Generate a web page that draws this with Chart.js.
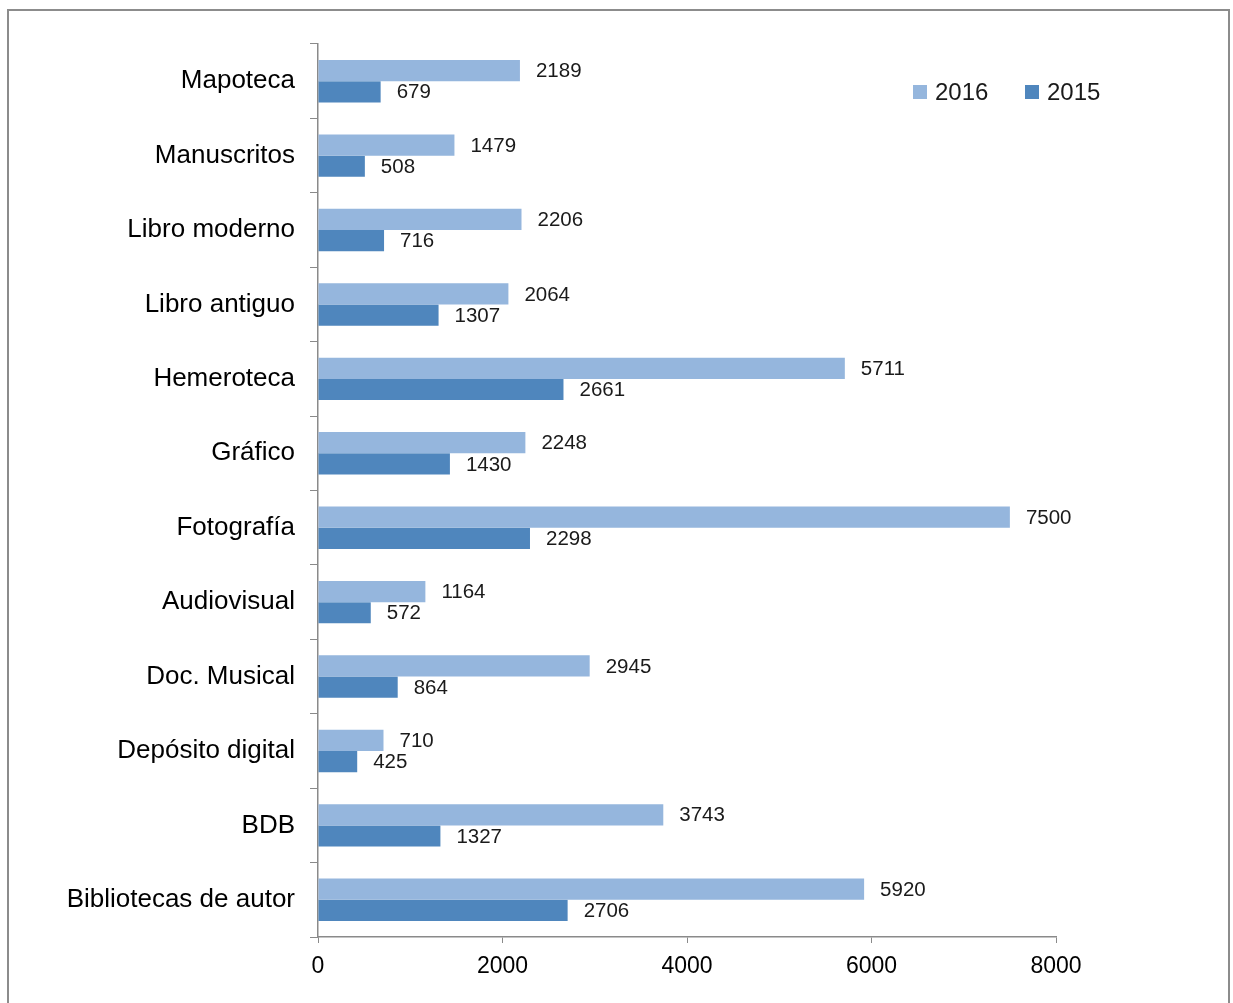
<!DOCTYPE html>
<html lang="es">
<head>
    <meta charset="UTF-8">
    <title>Fondos por colección 2015-2016</title>
    <script src="https://cdn.jsdelivr.net/npm/chart.js"></script>
    <style>
        body {
            margin: 0;
            background: #ffffff;
        }
        canvas {
            display: block;
        }
    </style>
</head>
<body>
    <canvas id="fondosChart" width="1233" height="1003"></canvas>

    <script>
        const categorias = ['Mapoteca', 'Manuscritos', 'Libro moderno', 'Libro antiguo', 'Hemeroteca', 'Gráfico',
            'Fotografía', 'Audiovisual', 'Doc. Musical', 'Depósito digital', 'BDB', 'Bibliotecas de autor'];
        const valores2016 = [2189, 1479, 2206, 2064, 5711, 2248, 7500, 1164, 2945, 710, 3743, 5920];
        const valores2015 = [679, 508, 716, 1307, 2661, 1430, 2298, 572, 864, 425, 1327, 2706];
        const ticksX = [0, 2000, 4000, 6000, 8000];

        const fuente = '"Liberation Sans", Arial, sans-serif';
        const gris = '#8a8a8a';

        // Marco gris alrededor del gráfico
        const marco = {
            id: 'marco',
            beforeDraw(chart) {
                const ctx = chart.ctx;
                ctx.save();
                ctx.strokeStyle = '#8c8c8c';
                ctx.lineWidth = 2;
                ctx.strokeRect(8, 10, 1221, 1100);
                ctx.restore();
            }
        };

        // Valores escritos a la derecha de cada barra
        const etiquetas = {
            id: 'etiquetas',
            afterDatasetsDraw(chart) {
                const ctx = chart.ctx;
                ctx.save();
                ctx.font = '20.5px ' + fuente;
                ctx.fillStyle = '#1a1a1a';
                ctx.textAlign = 'left';
                ctx.textBaseline = 'middle';
                chart.data.datasets.forEach((ds, i) => {
                    chart.getDatasetMeta(i).data.forEach((bar, j) => {
                        ctx.fillText(String(ds.data[j]), bar.x + 16, bar.y + 1);
                    });
                });
                ctx.restore();
            }
        };

        // Leyenda arriba a la derecha, dentro del área
        const leyenda = {
            id: 'leyenda',
            afterDraw(chart) {
                const ctx = chart.ctx;
                const posiciones = [913, 1025];
                ctx.save();
                ctx.font = '24px ' + fuente;
                ctx.textBaseline = 'middle';
                ctx.textAlign = 'left';
                chart.data.datasets.forEach((ds, i) => {
                    const x = posiciones[i];
                    ctx.fillStyle = ds.backgroundColor;
                    ctx.fillRect(x, 85, 14, 14);
                    ctx.fillStyle = '#1a1a1a';
                    ctx.fillText(ds.label, x + 22, 93);
                });
                ctx.restore();
            }
        };

        new Chart(document.getElementById('fondosChart'), {
            type: 'bar',
            data: {
                labels: categorias,
                datasets: [
                    { label: '2016', data: valores2016, backgroundColor: '#95b6dd' },
                    { label: '2015', data: valores2015, backgroundColor: '#4f86bd' }
                ]
            },
            options: {
                indexAxis: 'y',
                responsive: false,
                animation: false,
                layout: { padding: { top: 44, right: 177, left: 0, bottom: 0 } },
                datasets: {
                    bar: { categoryPercentage: 0.57, barPercentage: 1.0 }
                },
                plugins: {
                    legend: { display: false },
                    tooltip: { enabled: false }
                },
                scales: {
                    x: {
                        min: 0,
                        max: 8000,
                        afterBuildTicks(axis) {
                            axis.ticks = ticksX.map(v => ({ value: v }));
                        },
                        afterFit(axis) { axis.height = 66; },
                        grid: {
                            drawOnChartArea: false,
                            drawTicks: true,
                            tickLength: 6,
                            color: gris
                        },
                        border: { color: gris, width: 1.5 },
                        ticks: {
                            font: { family: fuente, size: 23 },
                            color: '#000000',
                            padding: 10,
                            maxRotation: 0,
                            callback: v => String(v)
                        }
                    },
                    y: {
                        afterFit(axis) { axis.width = 318; },
                        grid: {
                            offset: true,
                            drawOnChartArea: false,
                            drawTicks: true,
                            tickLength: 8,
                            color: gris
                        },
                        border: { color: gris, width: 1.5 },
                        ticks: {
                            font: { family: fuente, size: 26 },
                            color: '#000000',
                            padding: 15
                        }
                    }
                }
            },
            plugins: [marco, etiquetas, leyenda]
        });
    </script>
</body>
</html>
